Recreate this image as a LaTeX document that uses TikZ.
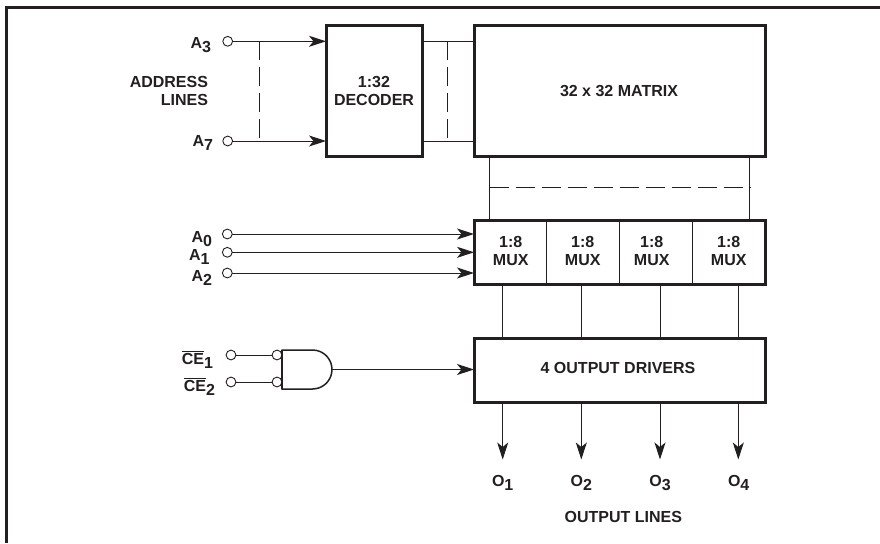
\documentclass[tikz,border=0pt]{standalone}
\usepackage{fontspec}
\setmainfont{Liberation Sans}
\usetikzlibrary{arrows.meta}
\definecolor{ink}{HTML}{231F20}
\newcommand{\Sb}[1]{\lower4pt\hbox{#1}}
\tikzset{
  x=1pt,y=-1pt,
  every node/.style={text=ink,font=\fontsize{16}{18}\selectfont\bfseries,inner sep=0pt,outer sep=0pt},
  block/.style={draw=ink,line width=3pt,line join=miter,rectangle,inner sep=0pt,outer sep=0pt,minimum width=#1},
  pin/.style={draw=ink,line width=0.9pt,circle,minimum size=9.8pt,inner sep=0pt,outer sep=0pt,fill=white},
  wire/.style={draw=ink,line width=1pt},
  dashwire/.style={draw=ink,line width=1pt,dash pattern=on 19pt off 7pt},
  flow/.style={wire,-{Stealth[length=17pt,width=11pt,inset=4.5pt]}},
  lab/.style={anchor=base east},
  ctr/.style={anchor=base}
}
\begin{document}
\begin{tikzpicture}
\useasboundingbox (0,0) rectangle (880,543);
\draw[ink,line width=3pt] (880,7.5) -- (6,7.5) -- (6,543);
% blocks
\node[block=96pt,minimum height=130pt] (dec) at (374,91) {};
\node[block=291pt,minimum height=130pt] (mat) at (619.5,91) {};
\node[block=291pt,minimum height=63.5pt] (mux) at (619.5,252.5) {};
\node[block=291pt,minimum height=64pt] (drv) at (619.5,370) {};
% block labels
\node[ctr] (t1) at (374,87) {1:32};
\node[ctr] (t2) at (374,105) {DECODER};
\node[ctr] (t3) at (619,96) {32 x 32 MATRIX};
\node[ctr] (t4) at (618,373) {4 OUTPUT DRIVERS};
\foreach \i/\x in {1/510.7,2/582.7,3/651.7,4/728.7}{
  \node[ctr] (m\i a) at (\x,247) {1:8};
  \node[ctr] (m\i b) at (\x,265) {MUX};
}
% mux dividers
\foreach \i/\x in {1/546,2/619,3/692}{
  \coordinate (dv\i) at (\x,220.7);
  \draw[wire] (dv\i) -- (dv\i |- mux.south);
}
% address pins
\node[pin] (a3) at (227.7,41.3) {};
\node[pin] (a7) at (227.7,141) {};
\node[pin] (a0) at (227.3,234) {};
\node[pin] (a1) at (227.3,252.3) {};
\node[pin] (a2) at (227.3,273) {};
\node[pin] (ce1) at (231,355) {};
\node[pin] (ce2) at (231,382) {};
\node[lab] (la3) at (211,48.3) {A\Sb{3}};
\node[lab] (la7) at (213,146.7) {A\Sb{7}};
\node[lab] (la0) at (212,242) {A\Sb{0}};
\node[lab] (la1) at (209.5,260.7) {A\Sb{1}};
\node[lab] (la2) at (212,281) {A\Sb{2}};
\node[lab] (lc1) at (213,364) {$\overline{\hbox{CE}}$\Sb{1}};
\node[lab] (lc2) at (215,391) {$\overline{\hbox{CE}}$\Sb{2}};
\node[lab] (ad1) at (208,87) {ADDRESS};
\node[lab] (ad2) at (208,105) {LINES};
% address wires
\draw[flow] (a3) -- (a3 -| dec.west);
\draw[flow] (a7) -- (a7 -| dec.west);
\draw[flow] (a0) -- (a0 -| mux.west);
\draw[flow] (a1) -- (a1 -| mux.west);
\draw[flow] (a2) -- (a2 -| mux.west);
\coordinate (bus1) at (259,41.3);
\draw[dashwire] (bus1) -- (bus1 |- a7);
% decoder to matrix
\coordinate (d3) at (422,41.3);
\coordinate (d7) at (422,141);
\draw[wire] (d3) -- (d3 -| mat.west);
\draw[wire] (d7) -- (d7 -| mat.west);
\coordinate (bus2) at (447,41.3);
\draw[dashwire] (bus2) -- (bus2 |- d7);
% matrix to mux
\coordinate (mt1) at (489.5,156);
\coordinate (mt2) at (749.7,156);
\draw[wire] (mt1) -- (mt1 |- mux.north);
\draw[wire] (mt2) -- (mt2 |- mux.north);
\coordinate (bus3) at (489.5,187);
\draw[dashwire] (bus3) -- (bus3 -| mt2);
% mux to drivers and outputs
\foreach \i/\x in {1/502.7,2/581.3,3/660,4/738.3}{
  \coordinate (mb\i) at (\x,284);
  \draw[wire] (mb\i) -- (mb\i |- drv.north);
  \coordinate (db\i) at (\x,402);
  \coordinate (oe\i) at (\x,459.5);
  \draw[flow] (db\i) -- (oe\i);
}
\foreach \i/\x in {1/492,2/570.7,3/649.3,4/728}{
  \node[anchor=base west] (o\i) at (\x,486.7) {O\Sb{\i}};
}
\node[ctr] (ol) at (623.3,522) {OUTPUT LINES};
% gate
\coordinate (gtl) at (282,350);
\coordinate (gbl) at (282,389);
\draw[ink,line width=1.5pt,fill=white] (gtl) -- (312.5,350) arc[start angle=90,end angle=-90,radius=19.5pt] -- (gbl) -- cycle;
\coordinate (gout) at (332,369.5);
\draw[flow] (gout) -- (gout -| drv.west);
\node[pin] (b1) at (277,355) {};
\node[pin] (b2) at (277,382) {};
\draw[wire] (ce1) -- (b1);
\draw[wire] (ce2) -- (b2);
\draw[ink,line width=1.5pt] (gtl) -- (gbl);
\end{tikzpicture}
\end{document}
